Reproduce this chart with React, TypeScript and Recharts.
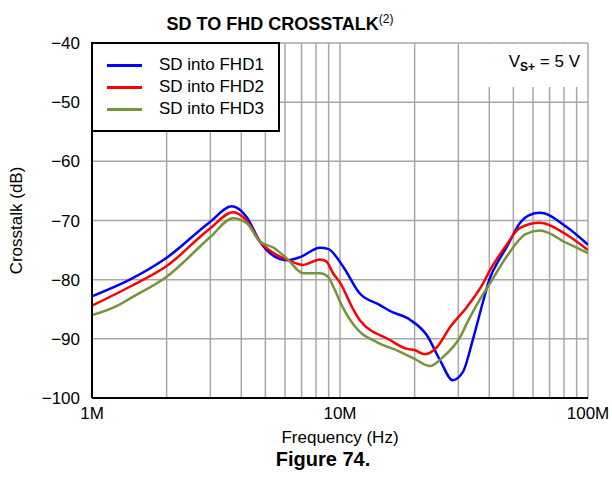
import { LineChart, Line, XAxis, YAxis, CartesianGrid } from 'recharts'

// frequency in MHz, crosstalk in dB
const fhd1Freq = [1, 1.42, 2, 3, 3.66, 4.2, 4.76, 5.73, 6.17, 6.9, 8.3, 8.95, 10.3, 12, 14.5, 15.9, 19.2, 22.4, 25.3, 28.5, 31.3, 34.4, 37.8, 40, 44, 47, 53, 58, 64, 82, 100]
const fhd1Db = [-82.8, -80.0, -76.3, -70.2, -67.6, -69.4, -73.6, -76.5, -76.7, -76.2, -74.6, -74.8, -77.8, -82.3, -84.3, -85.3, -86.8, -89.4, -93.6, -97.0, -95.6, -90.0, -83.6, -80.0, -76.5, -74.5, -70.5, -69.1, -68.7, -71.1, -74.1]

const fhd2Freq = [1, 1.42, 2, 3, 3.7, 4.2, 4.76, 5.4, 6.17, 7.1, 8.3, 8.8, 9.4, 10, 11.3, 12, 15.9, 18.6, 20, 22, 24.6, 27.8, 32.5, 37.8, 40, 47, 53, 64, 82, 100]
const fhd2Db = [-84.4, -81.2, -77.7, -71.3, -68.6, -70.0, -73.6, -75.5, -76.7, -77.5, -76.6, -76.9, -79.0, -80.5, -85.0, -86.8, -90.2, -91.7, -91.9, -92.6, -91.4, -88.0, -84.6, -80.6, -78.6, -74.1, -71.3, -70.4, -72.4, -75.0]

const fhd3Freq = [1, 1.28, 1.42, 2, 3, 3.7, 4.2, 4.76, 5.4, 6.1, 7.1, 8.3, 8.95, 9.4, 10.3, 12, 14, 17.5, 20, 23, 26, 30.5, 33, 37.8, 40, 47, 56, 64, 82, 100]
const fhd3Db = [-86.0, -84.3, -83.2, -79.5, -72.8, -69.6, -70.4, -73.6, -74.6, -76.4, -78.9, -78.9, -79.5, -81.2, -84.8, -88.8, -90.5, -92.2, -93.4, -94.6, -93.1, -89.7, -86.8, -82.4, -80.8, -76.1, -72.3, -71.7, -73.8, -75.5]

const xTicks = [1, 2, 3, 4, 5, 6, 7, 8, 9, 10, 20, 30, 40, 50, 60, 70, 80, 90, 100]
const xTickLabels: Record<number, string> = { 1: '1M', 10: '10M', 100: '100M' }
const yTicks = [-100, -90, -80, -70, -60, -50, -40]

const seriesNames = ['SD into FHD1', 'SD into FHD2', 'SD into FHD3']
const seriesColors = ['#0000ff', '#ff0000', '#77933c']

const toPoints = (freq: number[], db: number[]) => freq.map((f, i) => ({ f, db: db[i] }))
const series = [
  toPoints(fhd1Freq, fhd1Db),
  toPoints(fhd2Freq, fhd2Db),
  toPoints(fhd3Freq, fhd3Db),
]

const font = '"Liberation Sans", Arial, sans-serif'
const tickStyle = { fill: '#000', fontSize: 17, fontFamily: font }
const border = { stroke: '#000', strokeWidth: 2 }

export default function App() {
  return (
    <div style={{ position: 'absolute', left: 0, top: 0, width: 612, height: 479, background: '#fff', fontFamily: font, color: '#000' }}>
      <LineChart width={612} height={479} data={series[0]} margin={{ top: 43, right: 24, bottom: 51, left: 0 }}>
        <CartesianGrid stroke="#a8a8a8" strokeWidth={1.5} />
        <XAxis
          dataKey="f"
          type="number"
          scale="log"
          domain={[1, 100]}
          ticks={xTicks}
          interval={0}
          allowDataOverflow
          tickFormatter={v => xTickLabels[v] ?? ''}
          tick={tickStyle}
          tickLine={false}
          tickSize={0}
          tickMargin={9}
          axisLine={border}
          height={30}
          label={{ value: 'Frequency (Hz)', position: 'bottom', offset: 3, style: { fill: '#000', fontSize: 17, fontFamily: font } }}
        />
        <XAxis xAxisId="top" orientation="top" type="number" scale="log" domain={[1, 100]} tick={false} tickLine={false} axisLine={border} height={0} />
        <YAxis
          type="number"
          domain={[-100, -40]}
          ticks={yTicks}
          interval={0}
          tickFormatter={v => (v < 0 ? `\u2212${-v}` : `${v}`)}
          tick={tickStyle}
          tickLine={false}
          tickSize={0}
          tickMargin={12}
          axisLine={border}
          width={92}
          label={{ value: 'Crosstalk (dB)', angle: -90, position: 'insideLeft', offset: 16, style: { textAnchor: 'middle', fill: '#000', fontSize: 17, fontFamily: font } }}
        />
        <YAxis yAxisId="right" orientation="right" domain={[-100, -40]} tick={false} tickLine={false} axisLine={border} width={0} />
        {series.map((pts, i) => (
          <Line
            key={seriesNames[i]}
            data={pts}
            dataKey="db"
            name={seriesNames[i]}
            type="monotone"
            dot={false}
            stroke={seriesColors[i]}
            strokeWidth={2.5}
            isAnimationActive={false}
          />
        ))}
      </LineChart>

      <div style={{ position: 'absolute', left: 0, top: 12, width: 560, textAlign: 'center', fontSize: 18, fontWeight: 'bold' }}>
        SD TO FHD CROSSTALK<sup style={{ fontSize: 12, fontWeight: 'normal' }}>(2)</sup>
      </div>

      <div style={{ position: 'absolute', left: 91, top: 42, width: 185, height: 86, background: '#fff', border: '2px solid #000' }}>
        {seriesNames.map((n, i) => (
          <div key={n} style={{ position: 'absolute', left: 14, top: 11 + i * 22, height: 20, display: 'flex', alignItems: 'center', fontSize: 17 }}>
            <span style={{ display: 'inline-block', width: 35, height: 3, background: seriesColors[i], marginRight: 17 }} />
            {n}
          </div>
        ))}
      </div>

      <div style={{ position: 'absolute', left: 470, top: 44, width: 116, height: 43, background: '#fff', textAlign: 'right' }}>
        <span style={{ position: 'absolute', right: 6, top: 8, fontSize: 17, whiteSpace: 'nowrap' }}>
          V<sub style={{ fontSize: 12, fontWeight: 'bold' }}>S+</sub> = 5 V
        </span>
      </div>

      <div style={{ position: 'absolute', left: 0, top: 448, width: 646, textAlign: 'center', fontSize: 20, fontWeight: 'bold' }}>
        Figure 74.
      </div>
    </div>
  )
}
